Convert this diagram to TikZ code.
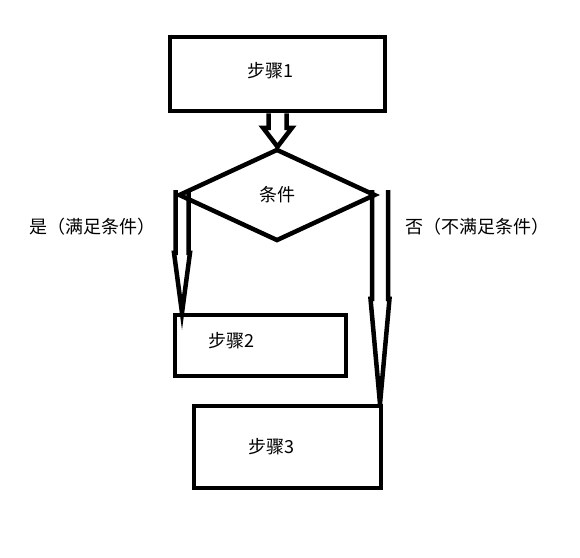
\documentclass[tikz,border=0pt]{standalone}
\usepackage{fontspec}
\setmainfont{Noto Sans CJK SC}
\usetikzlibrary{shapes.geometric,calc}
\begin{document}
\begin{tikzpicture}[x=1pt,y=-1pt,line width=4.5pt,
  box/.style={draw,rectangle,inner sep=0pt},
  fleche/.style={draw,line join=miter},
  every node/.style={font=\fontsize{18}{21}\selectfont}]
\useasboundingbox (0,0) rectangle (580,557);
\node[box,minimum width=215pt,minimum height=74pt,label={[xshift=-7pt,yshift=3pt]center:步骤1}](step1)at(277.5,74){};
\node[diamond,draw,inner sep=0pt,minimum width=197pt,minimum height=92pt](cond)at(277,195){条件};
\node[box,minimum width=171pt,minimum height=61pt,label={[xshift=-29pt,yshift=5pt]center:步骤2}](step2)at(260.5,345.5){};
\node[box,minimum width=187pt,minimum height=82pt,label={[xshift=-16pt]center:步骤3}](step3)at(287.5,447){};
\node(yes)at(92,227){是（满足条件）};
\node(no)at(477,227){否（不满足条件）};
\coordinate(condL)at(182,190);
\coordinate(condR)at(380,190);
\foreach \a/\b/\s/\h/\l in {step1.south/cond.north/9pt/14.5pt/19pt,condL/step2.north/6.5pt/8pt/60pt,condR/step3.north/8pt/9.5pt/105pt}
  \draw[fleche] let \p1=(\a),\p2=(\b) in (\x1-\s,\y1)--(\x1-\s,\y2+\l)--(\x1-\h,\y2+\l)--(\x1,\y2)
    --(\x1+\h,\y2+\l)--(\x1+\s,\y2+\l)--(\x1+\s,\y1);
\end{tikzpicture}
\end{document}
